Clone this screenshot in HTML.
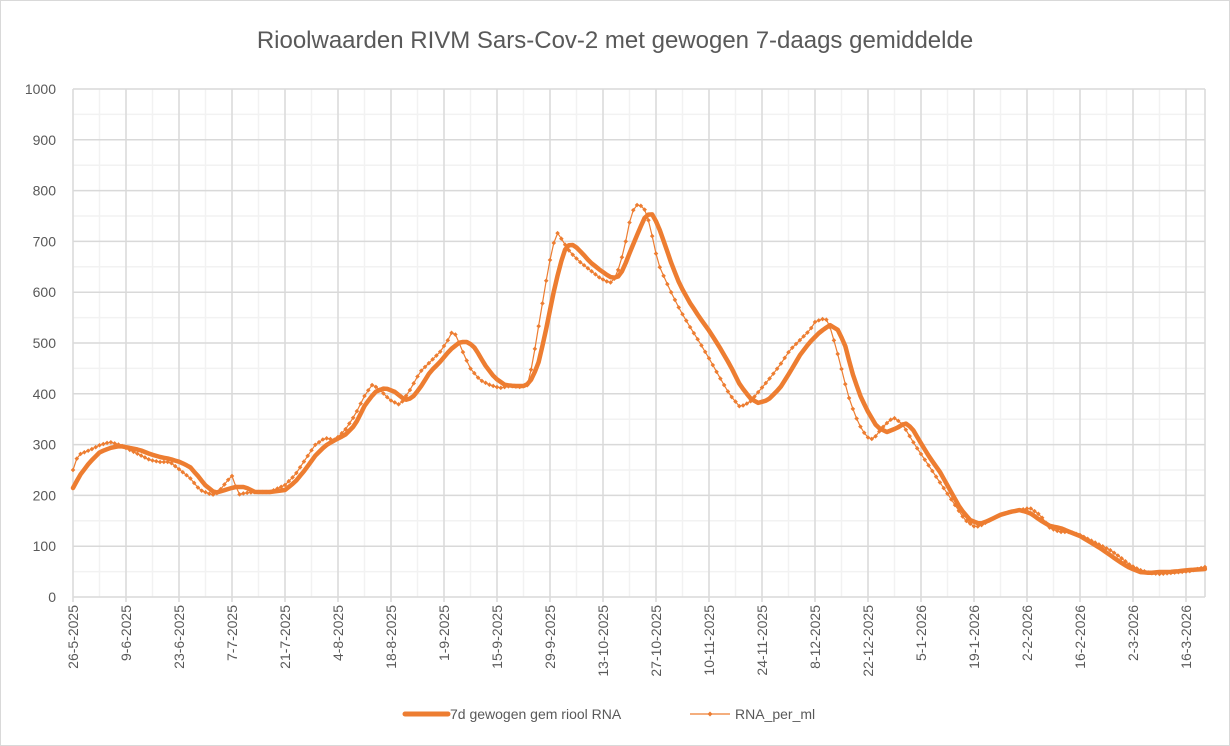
<!DOCTYPE html>
<html><head><meta charset="utf-8"><style>
html,body{margin:0;padding:0;background:#fff;}
svg{display:block;font-family:"Liberation Sans",sans-serif;}
</style></head><body>
<svg id="s" width="1230" height="746" viewBox="0 0 1230 746" xmlns="http://www.w3.org/2000/svg">
<rect x="0.5" y="0.5" width="1229" height="745" fill="#fff" stroke="#d9d9d9"/>
<text x="615" y="48" text-anchor="middle" font-size="24" fill="#595959">Rioolwaarden RIVM Sars-Cov-2 met gewogen 7-daags gemiddelde</text>
<g id="grid"></g>
<g id="labels" font-size="14" fill="#595959"></g>
<g id="series"></g>
<g font-size="14" fill="#595959">
<line x1="405" y1="714" x2="448" y2="714" stroke="#ED7D31" stroke-width="5" stroke-linecap="round"/>
<text x="450" y="719">7d gewogen gem riool RNA</text>
<line x1="690" y1="714" x2="730" y2="714" stroke="#ED7D31" stroke-width="1.2"/>
<path d="M710 711.5 L712.5 714 L710 716.5 L707.5 714Z" fill="#ED7D31"/>
<text x="735" y="719">RNA_per_ml</text>
</g>
</svg>
<script>
var NS="http://www.w3.org/2000/svg";
function el(t,a,p){var e=document.createElementNS(NS,t);for(var k in a)e.setAttribute(k,a[k]);p.appendChild(e);return e;}
var g=document.getElementById('grid'),L=document.getElementById('labels'),S=document.getElementById('series');
var x0=73,x1=1205,y0=597,y1=89,dx=53/14;
for(var v=50;v<1000;v+=100){var y=y0-(y0-y1)*v/1000;el('line',{x1:x0,x2:x1,y1:y,y2:y,stroke:'#f2f2f2','stroke-width':1.5},g);}
for(var d=7;x0+d*dx<x1;d+=14){var x=x0+d*dx;el('line',{x1:x,x2:x,y1:y1,y2:y0,stroke:'#f2f2f2','stroke-width':1.5},g);}
var dates=["26-5-2025","9-6-2025","23-6-2025","7-7-2025","21-7-2025","4-8-2025","18-8-2025","1-9-2025","15-9-2025","29-9-2025","13-10-2025","27-10-2025","10-11-2025","24-11-2025","8-12-2025","22-12-2025","5-1-2026","19-1-2026","2-2-2026","16-2-2026","2-3-2026","16-3-2026"];
for(var i=0;i<dates.length;i++){var x=x0+i*53;
el('line',{x1:x,x2:x,y1:y1,y2:y0+5,stroke:'#d9d9d9','stroke-width':1.5},g);
var t=el('text',{x:0,y:0,'text-anchor':'end',transform:'translate('+(x+5)+',605) rotate(-90)'},L);t.textContent=dates[i];}
el('line',{x1:x1,x2:x1,y1:y1,y2:y0,stroke:'#d9d9d9','stroke-width':1.5},g);
for(var v=0;v<=1000;v+=100){var y=y0-(y0-y1)*v/1000;
el('line',{x1:x0,x2:x1,y1:y,y2:y,stroke:'#d9d9d9','stroke-width':1.5},g);
var t=el('text',{x:56,y:y+5,'text-anchor':'end'},L);t.textContent=v;}
var raw=[[73,470],[78,455],[85,452],[90,450],[100,445],[110,442],[120,445],[130,450],[140,455],[150,460],[160,462],[170,462],[180,470],[190,478],[200,490],[210,494],[215,495],[220,490],[228,480],[234,474],[237,495],[245,493],[255,492],[270,492],[285,485],[295,475],[305,460],[315,445],[325,438],[335,440],[345,430],[355,415],[365,395],[372,385],[378,388],[390,400],[400,405],[410,390],[420,372],[430,362],[440,352],[448,340],[452,332],[456,335],[462,350],[470,368],[480,380],[490,385],[500,388],[510,386],[520,387],[528,385],[533,360],[538,330],[543,300],[548,270],[553,245],[558,232],[562,240],[570,252],[580,262],[590,270],[600,278],[610,283],[615,278],[620,265],[625,245],[630,220],[635,205],[640,205],[645,210],[650,225],[655,250],[660,268],[670,290],[680,310],[690,327],[700,343],[710,360],[720,378],[730,395],[740,407],[750,402],[760,390],[770,378],[780,365],[790,350],[800,340],[810,330],[815,322],[822,319],[828,320],[833,337],[838,355],[843,375],[848,395],[855,415],[862,430],[870,440],[875,437],[882,428],[890,420],[895,418],[903,425],[915,445],[925,460],[935,475],[945,490],[955,505],[965,520],[975,527],[980,526],[990,520],[1000,515],[1010,512],[1020,510],[1030,508],[1040,515],[1050,528],[1060,532],[1070,532],[1080,535],[1090,540],[1100,545],[1110,550],[1120,557],[1130,565],[1140,570],[1150,573],[1160,574],[1170,573],[1180,572],[1190,571],[1205,567]];
var sm=[[73,488],[80,475],[90,462],[100,452],[110,448],[120,446],[130,448],[140,450],[150,454],[160,457],[170,459],[180,462],[190,467],[198,476],[205,485],[215,493],[225,490],[235,487],[245,487],[255,492],[270,492],[285,490],[295,482],[305,470],[315,456],[325,446],[335,440],[345,435],[355,425],[365,405],[375,392],[385,388],[395,392],[405,400],[412,398],[420,388],[430,372],[440,362],[450,350],[460,342],[468,342],[475,348],[485,365],[495,378],[505,385],[515,386],[525,386],[530,382],[538,365],[545,335],[553,295],[560,265],[566,247],[571,244],[576,247],[582,253],[590,262],[600,270],[610,277],[617,278],[623,270],[630,252],[640,228],[646,215],[652,214],[658,225],[665,245],[672,265],[680,285],[690,303],[700,318],[710,332],[720,348],[730,365],[740,385],[750,398],[758,403],[768,400],[780,388],[790,372],[800,355],[810,342],[820,332],[830,325],[838,330],[845,345],[852,372],[860,395],[867,410],[877,427],[887,432],[897,428],[905,423],[912,428],[922,445],[930,458],[940,472],[950,490],[960,508],[970,520],[980,524],[990,520],[1000,515],[1010,512],[1020,510],[1030,513],[1040,520],[1050,526],[1060,528],[1070,532],[1080,536],[1090,542],[1100,548],[1110,555],[1120,562],[1130,568],[1140,572],[1150,573],[1160,572],[1170,572],[1180,571],[1190,570],[1205,569]];
function interp(a,x){for(var i=1;i<a.length;i++){if(x<=a[i][0]){var p=a[i-1],q=a[i];return p[1]+(q[1]-p[1])*(x-p[0])/(q[0]-p[0]);}}return a[a.length-1][1];}
var pts=[];for(var x=x0;x<=x1+0.01;x+=dx)pts.push([x,interp(raw,x)]);
var sp=[];for(var x=x0;x<=x1+0.01;x+=dx)sp.push([x,interp(sm,x)]);
function pl(a){return a.map(function(p){return p[0].toFixed(1)+','+p[1].toFixed(1)}).join(' ');}
el('polyline',{points:pl(sp),fill:'none',stroke:'#ED7D31','stroke-width':4.5,'stroke-linejoin':'round','stroke-linecap':'round'},S);
el('polyline',{points:pl(pts),fill:'none',stroke:'#ED7D31','stroke-width':1.2},S);
pts.forEach(function(p){el('path',{d:'M'+p[0]+' '+(p[1]-2.3)+' l2.3 2.3 l-2.3 2.3 l-2.3 -2.3Z',fill:'#ED7D31'},S);});
</script>
</body></html>
